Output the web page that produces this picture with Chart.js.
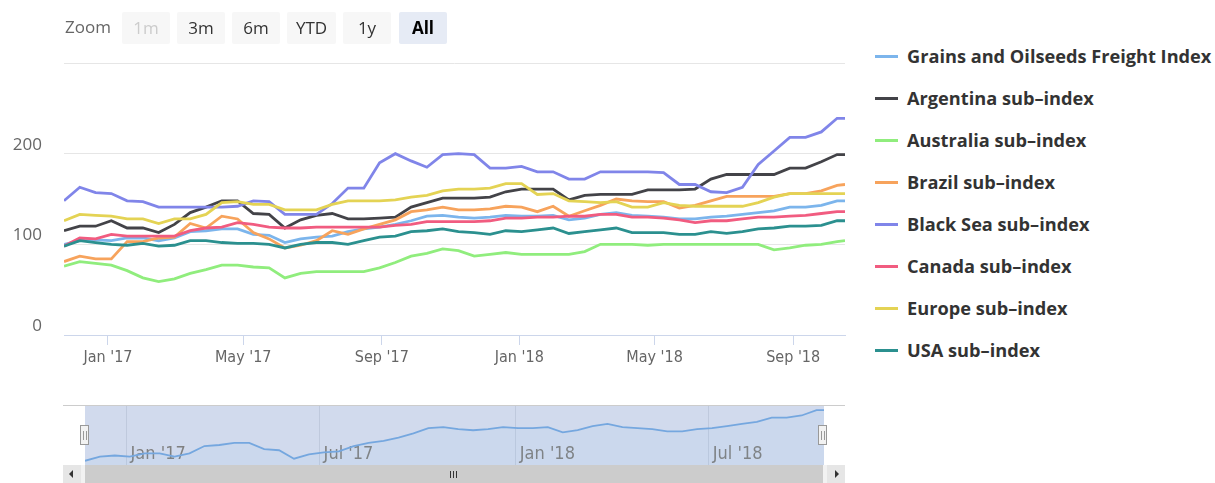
<!DOCTYPE html>
<html>
<head>
<meta charset="utf-8">
<script src="https://cdn.jsdelivr.net/npm/chart.js@4.4.1/dist/chart.umd.min.js"></script>
<style>
html,body{margin:0;padding:0;background:#fff;width:1215px;height:483px;overflow:hidden;font-family:'Open Sans',sans-serif;}
canvas{position:absolute;left:0;}
#main{top:0;}
#nav{top:400px;}
.zoomlbl{position:absolute;left:65px;top:14px;font-size:17px;color:#666;line-height:26px;}
.btn{position:absolute;top:12px;height:32px;width:48px;background:#f7f7f7;border-radius:2px;font-size:17px;color:#333;text-align:center;line-height:32px;}
.btn.dis{color:#ccc;}
.btn.sel{background:#e6ebf5;font-weight:bold;color:#000;}
#legend{position:absolute;left:875px;top:0;width:340px;height:400px;}
.li{position:absolute;left:0;height:26px;white-space:nowrap;}
.sym{position:absolute;left:0;top:12px;width:23px;height:3px;}
.lt{position:absolute;left:32px;top:0;line-height:26px;font-weight:bold;font-size:18.2px;color:#333;}
.outline{position:absolute;left:63px;top:405px;width:782px;height:1px;background:#cccccc;}
.handle{position:absolute;top:425px;width:9px;height:20px;background:#f2f2f2;border:1px solid #999;box-sizing:border-box;}
.handle:before,.handle:after{content:'';position:absolute;top:5px;width:1px;height:9px;background:#999;}
.handle:before{left:2px;}
.handle:after{left:5px;}
.track{position:absolute;left:63px;top:465px;width:782px;height:18px;background:#f2f2f2;}
.sbtn{position:absolute;top:465px;width:18px;height:18px;background:#e6e6e6;}
.thumb{position:absolute;left:85px;top:465px;width:738px;height:18px;background:#cccccc;}
.rifle{position:absolute;top:6px;width:1px;height:7px;background:#333;}
.arrL{position:absolute;left:6px;top:5px;width:0;height:0;border-top:4px solid transparent;border-bottom:4px solid transparent;border-right:4px solid #333;}
.arrR{position:absolute;left:8px;top:5px;width:0;height:0;border-top:4px solid transparent;border-bottom:4px solid transparent;border-left:4px solid #333;}
</style>
</head>
<body>
<canvas id="main" width="860" height="380"></canvas>
<canvas id="nav" width="860" height="65"></canvas>
<div class="zoomlbl">Zoom</div>
<div id="buttons"></div>
<div id="legend"></div>
<div class="outline"></div>
<div class="track"></div>
<div class="sbtn" style="left:63px"><div class="arrL"></div></div>
<div class="sbtn" style="left:827px"><div class="arrR"></div></div>
<div class="thumb"><div class="rifle" style="left:365px"></div><div class="rifle" style="left:368px"></div><div class="rifle" style="left:371px"></div></div>
<div class="handle" style="left:80px"></div>
<div class="handle" style="left:818px"></div>
<script>
// ---- data ----
const dates = ['2016-11-23','2016-12-07','2016-12-21','2017-01-04','2017-01-18','2017-02-01','2017-02-15','2017-03-01','2017-03-15','2017-03-29','2017-04-12','2017-04-26','2017-05-10','2017-05-24','2017-06-07','2017-06-21','2017-07-05','2017-07-19','2017-08-02','2017-08-16','2017-08-30','2017-09-13','2017-09-27','2017-10-11','2017-10-25','2017-11-08','2017-11-22','2017-12-06','2017-12-20','2018-01-03','2018-01-17','2018-01-31','2018-02-14','2018-02-28','2018-03-14','2018-03-28','2018-04-11','2018-04-25','2018-05-09','2018-05-23','2018-06-06','2018-06-20','2018-07-04','2018-07-18','2018-08-01','2018-08-15','2018-08-29','2018-09-12','2018-09-26','2018-10-10','2018-10-17'];
const grains    = [100,104,105,104,107,107,104,107,114,115,117,117,111,110,102,106,108,109,114,117,119,122,126,131,132,130,129,130,132,131,131,132,127,129,133,135,132,131,130,128,128,130,131,133,135,137,141,141,143,148,148];
const argentina = [115,120,120,126,118,118,113,122,135,141,148,148,134,133,118,127,132,134,128,128,129,130,141,146,151,151,151,152,158,161,161,161,149,154,155,155,155,160,160,160,161,172,177,177,177,177,184,184,191,199,199];
const australia = [76,81,79,77,71,63,59,62,68,72,77,77,75,74,63,68,70,70,70,70,74,80,87,90,95,93,87,89,91,89,89,89,89,92,100,100,100,99,100,100,100,100,100,100,100,94,96,99,100,103,104];
const brazil    = [81,87,84,84,103,103,107,108,123,118,131,128,113,106,96,99,104,115,111,117,122,127,136,138,141,138,138,139,142,141,136,142,131,137,143,150,148,147,147,140,143,148,153,153,153,153,156,156,159,165,166];
const blackSea  = [148,163,157,156,148,147,141,141,141,141,141,142,148,147,133,133,133,145,162,162,190,200,192,185,199,200,199,184,184,186,180,180,172,172,180,180,180,180,179,166,166,158,157,163,188,203,218,218,224,239,239];
const canada    = [98,107,106,111,109,109,109,109,115,118,119,124,122,119,118,118,119,119,119,119,119,121,122,125,125,125,125,126,129,129,130,130,131,131,133,133,130,130,129,127,124,126,126,128,130,130,131,132,134,136,136];
const europe    = [126,133,132,131,128,128,123,128,128,133,146,147,144,144,138,138,138,144,148,148,148,149,152,154,159,161,161,162,167,167,155,156,148,147,146,147,141,141,146,143,142,142,142,142,146,152,156,156,156,156,156];
const usa       = [98,104,102,100,99,101,98,99,104,104,102,101,101,100,96,100,102,102,100,104,108,109,114,115,117,114,113,111,115,114,116,118,112,114,116,118,113,113,113,111,111,114,112,114,117,118,120,120,121,126,126];

const seriesNames = ['Grains and Oilseeds Freight Index','Argentina sub-index','Australia sub-index','Brazil sub-index','Black Sea sub-index','Canada sub-index','Europe sub-index','USA sub-index'];
const seriesValues = [grains, argentina, australia, brazil, blackSea, canada, europe, usa];
const seriesColors = ['#7cb5ec','#434348','#90ed7d','#f7a35c','#8085e9','#f15c80','#e4d354','#2b908f'];

const mainTickDates = ['2017-01-01','2017-05-01','2017-09-01','2018-01-01','2018-05-01','2018-09-01'];
const mainTickLabels = ["Jan '17","May '17","Sep '17","Jan '18","May '18","Sep '18"];
const navTickDates = ['2017-01-01','2017-07-01','2018-01-01','2018-07-01'];
const navTickLabels = ["Jan '17","Jul '17","Jan '18","Jul '18"];
const yTicks = [0,100,200,300];
const yLabels = ['0','100','200',''];

const zoomButtons = ['1m','3m','6m','YTD','1y','All'];
const zoomDisabled = [true,false,false,false,false,false];
const zoomSelected = 'All';

// ---- helpers ----
function toDay(s){const p=s.split('-').map(Number);return (Date.UTC(p[0],p[1]-1,p[2])-Date.UTC(2017,0,1))/864e5;}
const days = dates.map(toDay);
const condFont = "'DejaVu Sans Condensed','Liberation Sans Narrow',sans-serif";

// buttons
const bx = [122,177,232,287,343,399];
const bw = [48,48,48,49,48,48];
const bwrap = document.getElementById('buttons');
zoomButtons.forEach((b,i)=>{
  const d=document.createElement('div');
  d.className='btn'+(zoomDisabled[i]?' dis':'')+(b===zoomSelected?' sel':'');
  d.style.left=bx[i]+'px'; d.style.width=bw[i]+'px';
  d.textContent=b; bwrap.appendChild(d);
});
// legend
const lg=document.getElementById('legend');
seriesNames.forEach((n,i)=>{
  const it=document.createElement('div'); it.className='li'; it.style.top=(56+42*i-13)+'px';
  const s=document.createElement('div'); s.className='sym'; s.style.background=seriesColors[i];
  const t=document.createElement('div'); t.className='lt'; t.textContent=n.replace('sub-index','sub\u2013index');
  it.appendChild(s); it.appendChild(t); lg.appendChild(it);
});

// ---- main chart ----
new Chart(document.getElementById('main'),{
  type:'line',
  data:{datasets:seriesNames.map((n,i)=>({
    label:n,
    data:days.map((d,j)=>({x:d,y:seriesValues[i][j]})),
    borderColor:seriesColors[i],
    backgroundColor:seriesColors[i],
    borderWidth:2.8,
    pointRadius:0,
    tension:0,
    fill:false,
    order:seriesNames.length-i
  }))},
  options:{
    responsive:false,animation:false,devicePixelRatio:1,
    layout:{padding:{top:63,right:15,left:0,bottom:0}},
    plugins:{legend:{display:false},tooltip:{enabled:false}},
    scales:{
      x:{type:'linear',min:days[0],max:days[days.length-1],
        afterBuildTicks:s=>{s.ticks=mainTickDates.map(t=>({value:toDay(t)}));},
        afterFit:s=>{s.height=45;},
        grid:{drawOnChartArea:false,drawTicks:true,tickLength:10,color:'#ccd6eb'},
        border:{color:'#ccd6eb',width:1},
        ticks:{autoSkip:false,maxRotation:0,padding:3,color:'#666',font:{family:condFont,size:16},
          callback:(v,i)=>mainTickLabels[i]}
      },
      y:{min:0,max:300,
        afterBuildTicks:s=>{s.ticks=yTicks.map(v=>({value:v}));},
        afterFit:s=>{s.width=64;},
        grid:{color:'#e6e6e6',drawTicks:false},
        border:{display:false},
        ticks:{padding:22,labelOffset:-9,color:'#666',font:{family:'Open Sans',size:17},
          callback:(v,i)=>yLabels[i]}
      }
    }
  }
});

// ---- navigator ----
const navBg={id:'navBg',
  beforeDraw(c){const a=c.chartArea,x=c.ctx;x.save();x.fillStyle='#d1daed';x.fillRect(a.left,a.top,a.right-a.left,a.bottom-a.top);x.restore();},
  beforeDatasetsDraw(c){
    const sc=c.scales.x,x=c.ctx;x.save();
    x.font="18px "+condFont;x.fillStyle='#808080';x.textAlign='left';x.textBaseline='alphabetic';
    navTickDates.forEach((t,i)=>{x.fillText(navTickLabels[i],sc.getPixelForValue(toDay(t))+4,c.chartArea.bottom-6);});
    x.restore();
  }
};
new Chart(document.getElementById('nav'),{
  type:'line',
  data:{datasets:[{data:days.map((d,j)=>({x:d,y:grains[j]})),borderColor:'#75a7df',borderWidth:1.8,pointRadius:0,tension:0,fill:'start',backgroundColor:'rgba(124,181,236,0.06)'}]},
  options:{
    responsive:false,animation:false,devicePixelRatio:1,
    layout:{padding:{top:6,left:85,right:36,bottom:0}},
    plugins:{legend:{display:false},tooltip:{enabled:false}},
    scales:{
      x:{type:'linear',min:days[0],max:days[days.length-1],
        afterBuildTicks:s=>{s.ticks=navTickDates.map(t=>({value:toDay(t)}));},
        afterFit:s=>{s.height=0;},
        grid:{drawOnChartArea:true,drawTicks:false,color:'#bfc9dd'},
        border:{display:false},
        ticks:{display:false}
      },
      y:{display:false,min:96,max:152}
    }
  },
  plugins:[navBg]
});
</script>
</body>
</html>
